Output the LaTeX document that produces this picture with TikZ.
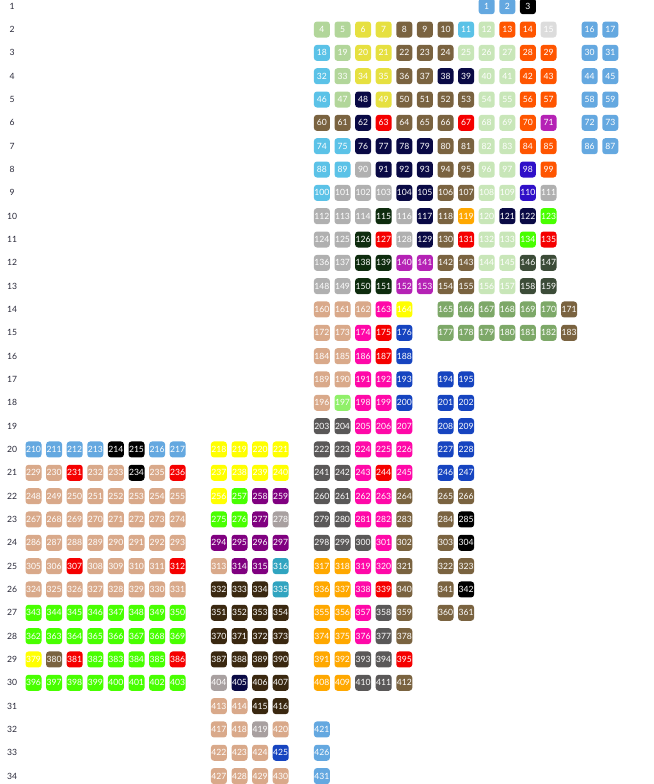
\documentclass[tikz,border=0pt]{standalone}
\usepackage{fontspec}
\setmainfont{Lato}

\definecolor{lblue}{HTML}{64A8E0}
\definecolor{sage}{HTML}{B2D69A}
\definecolor{pale}{HTML}{C8E6B8}
\definecolor{lemon}{HTML}{E6E040}
\definecolor{olive}{HTML}{7A6340}
\definecolor{cyan}{HTML}{5BC2E7}
\definecolor{flame}{HTML}{FF5500}
\definecolor{silver}{HTML}{DCDCDC}
\definecolor{navy}{HTML}{0A0A45}
\definecolor{red}{HTML}{F50000}
\definecolor{orchid}{HTML}{B522B5}
\definecolor{grey}{HTML}{B0B0B0}
\definecolor{violet}{HTML}{3010C8}
\definecolor{amber}{HTML}{FFA800}
\definecolor{lime}{HTML}{48FF00}
\definecolor{forest}{HTML}{0E2C0E}
\definecolor{moss}{HTML}{3C4C38}
\definecolor{tan}{HTML}{D9A98A}
\definecolor{pink}{HTML}{FF08A8}
\definecolor{yellow}{HTML}{FFFF00}
\definecolor{fern}{HTML}{7DA868}
\definecolor{royal}{HTML}{1644C0}
\definecolor{mint}{HTML}{90F06A}
\definecolor{slate}{HTML}{5A5858}
\definecolor{purple}{HTML}{800080}
\definecolor{mauve}{HTML}{A8A0A0}
\definecolor{teal}{HTML}{30A4C0}
\definecolor{umber}{HTML}{3A2810}
\definecolor{labelgray}{HTML}{2A2A3A}

\begin{document}
\begin{tikzpicture}[x=1pt,y=-1pt,
    cell/.style={rounded corners=3pt,minimum width=16pt,minimum height=16pt,inner sep=0pt,text=white,font=\fontsize{8.6}{9}\selectfont},
    rowlabel/.style={text=labelgray,font=\fontsize{8.6}{9}\selectfont}
]
\useasboundingbox (0,0) rectangle (653,784);

% Row labels
\foreach \r in {1,...,34}
    \node[rowlabel] (row\r) at (12,{6.2+23.33*(\r-1)}) {\r};

% Cells: row/first column/first number/count/colour
\foreach \r/\c/\n/\k/\col in {
    1/22/1/2/lblue, 1/24/3/1/black,
    2/14/4/2/sage, 2/16/6/2/lemon, 2/18/8/3/olive, 2/21/11/1/cyan, 2/22/12/1/pale, 2/23/13/2/flame, 2/25/15/1/silver, 2/27/16/2/lblue,
    3/14/18/1/cyan, 3/15/19/1/sage, 3/16/20/2/lemon, 3/18/22/3/olive, 3/21/25/3/pale, 3/24/28/2/flame, 3/27/30/2/lblue,
    4/14/32/1/cyan, 4/15/33/1/sage, 4/16/34/2/lemon, 4/18/36/2/olive, 4/20/38/2/navy, 4/22/40/2/pale, 4/24/42/2/flame, 4/27/44/2/lblue,
    5/14/46/1/cyan, 5/15/47/1/sage, 5/16/48/1/navy, 5/17/49/1/lemon, 5/18/50/4/olive, 5/22/54/2/pale, 5/24/56/2/flame, 5/27/58/2/lblue,
    6/14/60/2/olive, 6/16/62/1/navy, 6/17/63/1/red, 6/18/64/3/olive, 6/21/67/1/red, 6/22/68/2/pale, 6/24/70/1/flame, 6/25/71/1/orchid, 6/27/72/2/lblue,
    7/14/74/2/cyan, 7/16/76/4/navy, 7/20/80/2/olive, 7/22/82/2/pale, 7/24/84/2/flame, 7/27/86/2/lblue,
    8/14/88/2/cyan, 8/16/90/1/grey, 8/17/91/3/navy, 8/20/94/2/olive, 8/22/96/2/pale, 8/24/98/1/violet, 8/25/99/1/flame,
    9/14/100/1/cyan, 9/15/101/3/grey, 9/18/104/2/navy, 9/20/106/2/olive, 9/22/108/2/pale, 9/24/110/1/violet, 9/25/111/1/grey,
    10/14/112/3/grey, 10/17/115/1/forest, 10/18/116/1/grey, 10/19/117/1/navy, 10/20/118/1/olive, 10/21/119/1/amber, 10/22/120/1/pale, 10/23/121/2/navy, 10/25/123/1/lime,
    11/14/124/2/grey, 11/16/126/1/forest, 11/17/127/1/red, 11/18/128/1/grey, 11/19/129/1/navy, 11/20/130/1/olive, 11/21/131/1/red, 11/22/132/2/pale, 11/24/134/1/lime, 11/25/135/1/red,
    12/14/136/2/grey, 12/16/138/2/forest, 12/18/140/2/orchid, 12/20/142/2/olive, 12/22/144/2/pale, 12/24/146/2/moss,
    13/14/148/2/grey, 13/16/150/2/forest, 13/18/152/2/orchid, 13/20/154/2/olive, 13/22/156/2/pale, 13/24/158/2/moss,
    14/14/160/3/tan, 14/17/163/1/pink, 14/18/164/1/yellow, 14/20/165/6/fern, 14/26/171/1/olive,
    15/14/172/2/tan, 15/16/174/1/pink, 15/17/175/1/red, 15/18/176/1/royal, 15/20/177/6/fern, 15/26/183/1/olive,
    16/14/184/2/tan, 16/16/186/1/pink, 16/17/187/1/red, 16/18/188/1/royal,
    17/14/189/2/tan, 17/16/191/2/pink, 17/18/193/1/royal, 17/20/194/2/royal,
    18/14/196/1/tan, 18/15/197/1/mint, 18/16/198/2/pink, 18/18/200/1/royal, 18/20/201/2/royal,
    19/14/203/2/slate, 19/16/205/3/pink, 19/20/208/2/royal,
    20/0/210/4/lblue, 20/4/214/2/black, 20/6/216/2/lblue, 20/9/218/4/yellow, 20/14/222/2/slate, 20/16/224/3/pink, 20/20/227/2/royal,
    21/0/229/2/tan, 21/2/231/1/red, 21/3/232/2/tan, 21/5/234/1/black, 21/6/235/1/tan, 21/7/236/1/red, 21/9/237/4/yellow, 21/14/241/2/slate, 21/16/243/1/pink, 21/17/244/1/red, 21/18/245/1/pink, 21/20/246/2/royal,
    22/0/248/8/tan, 22/9/256/1/yellow, 22/10/257/1/lime, 22/11/258/2/purple, 22/14/260/2/slate, 22/16/262/2/pink, 22/18/264/1/olive, 22/20/265/2/olive,
    23/0/267/8/tan, 23/9/275/2/lime, 23/11/277/1/purple, 23/12/278/1/mauve, 23/14/279/2/slate, 23/16/281/2/pink, 23/18/283/1/olive, 23/20/284/1/olive, 23/21/285/1/black,
    24/0/286/8/tan, 24/9/294/4/purple, 24/14/298/3/slate, 24/17/301/1/pink, 24/18/302/1/olive, 24/20/303/1/olive, 24/21/304/1/black,
    25/0/305/2/tan, 25/2/307/1/red, 25/3/308/4/tan, 25/7/312/1/red, 25/9/313/1/tan, 25/10/314/2/purple, 25/12/316/1/teal, 25/14/317/2/amber, 25/16/319/2/pink, 25/18/321/1/olive, 25/20/322/2/olive,
    26/0/324/8/tan, 26/9/332/3/umber, 26/12/335/1/teal, 26/14/336/2/amber, 26/16/338/1/pink, 26/17/339/1/red, 26/18/340/1/olive, 26/20/341/1/olive, 26/21/342/1/black,
    27/0/343/8/lime, 27/9/351/4/umber, 27/14/355/2/amber, 27/16/357/1/pink, 27/17/358/1/slate, 27/18/359/1/olive, 27/20/360/2/olive,
    28/0/362/8/lime, 28/9/370/4/umber, 28/14/374/2/amber, 28/16/376/1/pink, 28/17/377/1/slate, 28/18/378/1/olive,
    29/0/379/1/yellow, 29/1/380/1/olive, 29/2/381/1/red, 29/3/382/4/lime, 29/7/386/1/red, 29/9/387/4/umber, 29/14/391/2/amber, 29/16/393/2/slate, 29/18/395/1/red,
    30/0/396/8/lime, 30/9/404/1/mauve, 30/10/405/1/navy, 30/11/406/2/umber, 30/14/408/2/amber, 30/16/410/2/slate, 30/18/412/1/olive,
    31/9/413/2/tan, 31/11/415/2/umber,
    32/9/417/2/tan, 32/11/419/1/mauve, 32/12/420/1/tan, 32/14/421/1/lblue,
    33/9/422/3/tan, 33/12/425/1/royal, 33/14/426/1/lblue,
    34/9/427/4/tan, 34/14/431/1/lblue}
    \foreach \i in {1,...,\k} {
        \pgfmathtruncatemacro{\num}{\n+\i-1}
        \node[cell,fill=\col] (c\num) at ({33.5+20.6*(\c+\i-1)},{6.2+23.33*(\r-1)}) {\num};
    }

\end{tikzpicture}
\end{document}
